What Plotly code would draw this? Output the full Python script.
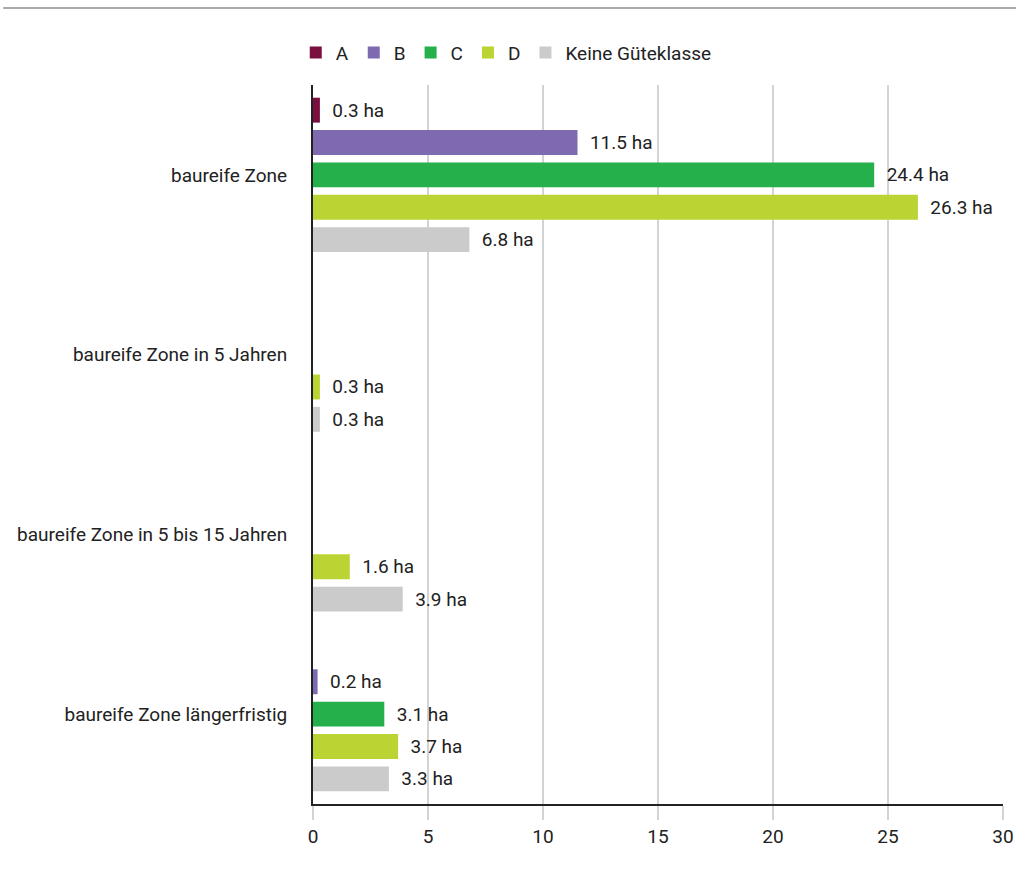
import plotly.graph_objects as go

categories = ["baureife Zone", "baureife Zone in 5 Jahren",
              "baureife Zone in 5 bis 15 Jahren", "baureife Zone längerfristig"]
series_names = ["A", "B", "C", "D", "Keine Güteklasse"]
vals_A = [0.3, None, None, None]
vals_B = [11.5, None, None, 0.2]
vals_C = [24.4, None, None, 3.1]
vals_D = [26.3, 0.3, 1.6, 3.7]
vals_K = [6.8, 0.3, 3.9, 3.3]
colors = ["#7a1040", "#7e6ab0", "#25b04c", "#bcd433", "#cccbcc"]
x_ticks = [0, 5, 10, 15, 20, 25, 30]

FONT = "Roboto, Arial, sans-serif"
FS = 19
fig = go.Figure()
for name, vals, col in zip(series_names, [vals_A, vals_B, vals_C, vals_D, vals_K], colors):
    fig.add_trace(go.Bar(
        y=categories, x=vals, name=name, orientation="h",
        marker=dict(color=col, line=dict(width=0)),
        text=[("\u00a0\u00a0" + f"{v} ha") if v is not None else "" for v in vals],
        textposition="outside", constraintext="none", cliponaxis=False,
        textfont=dict(size=FS, color="#222222", family=FONT),
    ))

fig.update_layout(
    width=1016, height=879,
    margin=dict(l=313, r=13, t=85, b=75),
    paper_bgcolor="white", plot_bgcolor="white",
    barmode="group", bargap=0.1, bargroupgap=0.23,
    font=dict(family=FONT, size=FS, color="#222222"),
    legend=dict(orientation="h", x=-0.025, xanchor="left", y=1.045, yanchor="middle",
                font=dict(size=FS, color="#222222"), traceorder="normal",
                itemwidth=30),
    xaxis=dict(range=[0, 30], tickvals=x_ticks, showgrid=True, gridcolor="#d3d3d3",
               gridwidth=2, zeroline=False, showline=True, linecolor="#222222", linewidth=2,
               ticks="outside", ticklen=14, tickwidth=2, tickcolor="#d3d3d3",
               tickfont=dict(size=FS, color="#222222"), automargin=False),
    yaxis=dict(autorange="reversed", showline=True, linecolor="#222222", linewidth=2,
               showgrid=False, ticks="", ticklabelstandoff=20, automargin=False,
               tickfont=dict(size=FS, color="#222222")),
    shapes=[dict(type="line", xref="paper", yref="paper",
                 x0=-0.449, x1=1.02, y0=1.107, y1=1.107,
                 line=dict(color="#aaaaaa", width=2))],
)
fig.write_html("out.html")
